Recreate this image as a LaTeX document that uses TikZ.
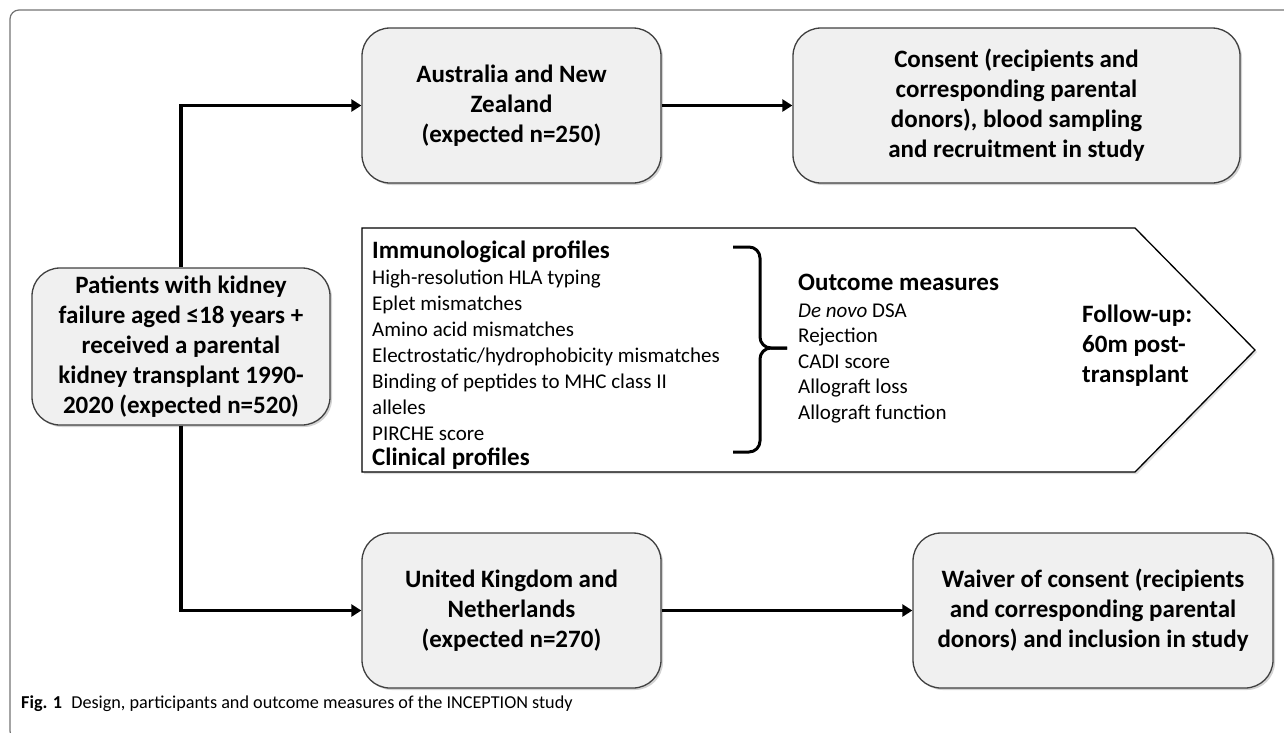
\documentclass[tikz,border=0pt]{standalone}
\usepackage{fontspec}
\setmainfont{Carlito}
\usetikzlibrary{positioning,shadows,arrows.meta}

\tikzset{
  box/.style={draw=black!75, line width=1.3pt, fill=black!6, rounded corners=28pt,
    minimum height=155pt, align=center, font=\fontsize{25}{30}\selectfont\bfseries,
    drop shadow={shadow xshift=2pt, shadow yshift=-2pt, opacity=0.35}},
  flow/.style={line width=3.5pt, -{Triangle[length=10pt,width=12pt]}},
  brace/.style={line width=3pt, rounded corners=11pt},
  item/.style={anchor=base west, inner sep=0pt, font=\fontsize{21}{26}\selectfont},
  head/.style={anchor=base west, inner sep=0pt, font=\fontsize{25}{30}\selectfont\bfseries},
}

\begin{document}
\begin{tikzpicture}[x=1pt,y=-1pt]

    \useasboundingbox (0,0) rectangle (1284,732);
    \draw[black!55, line width=1.2pt, rounded corners=9pt] (40,740) -- (10,740) -- (10,10) -- (1290,10);

    \node[box, minimum width=298pt, minimum height=157pt] (pat) at (181,346.5)
        {Patients with kidney\\failure aged ≤18 years +\\received a parental\\kidney transplant 1990-\\2020 (expected n=520)};
    \node[box, minimum width=299pt] (anz) at (511.5,105.5) {Australia and New\\Zealand\\(expected n=250)};
    \node[box, minimum width=447pt] (cons) at (1016.5,105.5)
        {Consent (recipients and\\corresponding parental\\donors), blood sampling\\and recruitment in study};
    \node[box, minimum width=299pt] (ukn) at (511.5,610.5) {United Kingdom and\\Netherlands\\(expected n=270)};
    \node[box, minimum width=360pt] (waiv) at (1093,610.5)
        {Waiver of consent (recipients\\and corresponding parental\\donors) and inclusion in study};

    \draw[flow] (pat.north) |- (anz.west);
    \draw[flow] (anz) -- (cons);
    \draw[flow] (pat.south) |- (ukn.west);
    \draw[flow] (ukn) -- (waiv);

    \draw[line width=1.3pt, fill=white, drop shadow={shadow xshift=2pt, shadow yshift=-2pt, opacity=0.25}]
        (362,228) -- (1135,228) -- (1255,350) -- (1135,472) -- (362,472) -- cycle;

    \node[head] (immu) at (372,258) {Immunological profiles};
    \foreach \txt [count=\i] in {High-resolution HLA typing, Eplet mismatches, Amino acid mismatches,
        Electrostatic/hydrophobicity mismatches, Binding of peptides to MHC class II, alleles, PIRCHE score}
        \node[item] (immu\i) at (372,258+26*\i) {\txt};
    \node[head] (clin) at (372,465) {Clinical profiles};

    \coordinate (br1) at (733,247);
    \coordinate (br2) at (733,452);
    \coordinate (tip) at (787,348);
    \draw[brace] (br1) -| (760,348) -- (tip);
    \draw[brace] (br2) -| (760,348) -- (tip);

    \node[head] (outc) at (798,290) {Outcome measures};
    \foreach \txt [count=\i] in {\textit{De novo} DSA, Rejection, CADI score, Allograft loss, Allograft function}
        \node[item] (outc\i) at (798,291.5+25.5*\i) {\txt};

    \node[head, align=left, anchor=north west] (fup) at (1082,305) {Follow-up:\\60m post-\\transplant};

    \node[anchor=base west, inner sep=0pt, font=\fontsize{18.2}{20}\selectfont] (cap) at (21,708)
        {\textbf{Fig. 1}\hspace{0.5em}Design, participants and outcome measures of the INCEPTION study};

\end{tikzpicture}
\end{document}
